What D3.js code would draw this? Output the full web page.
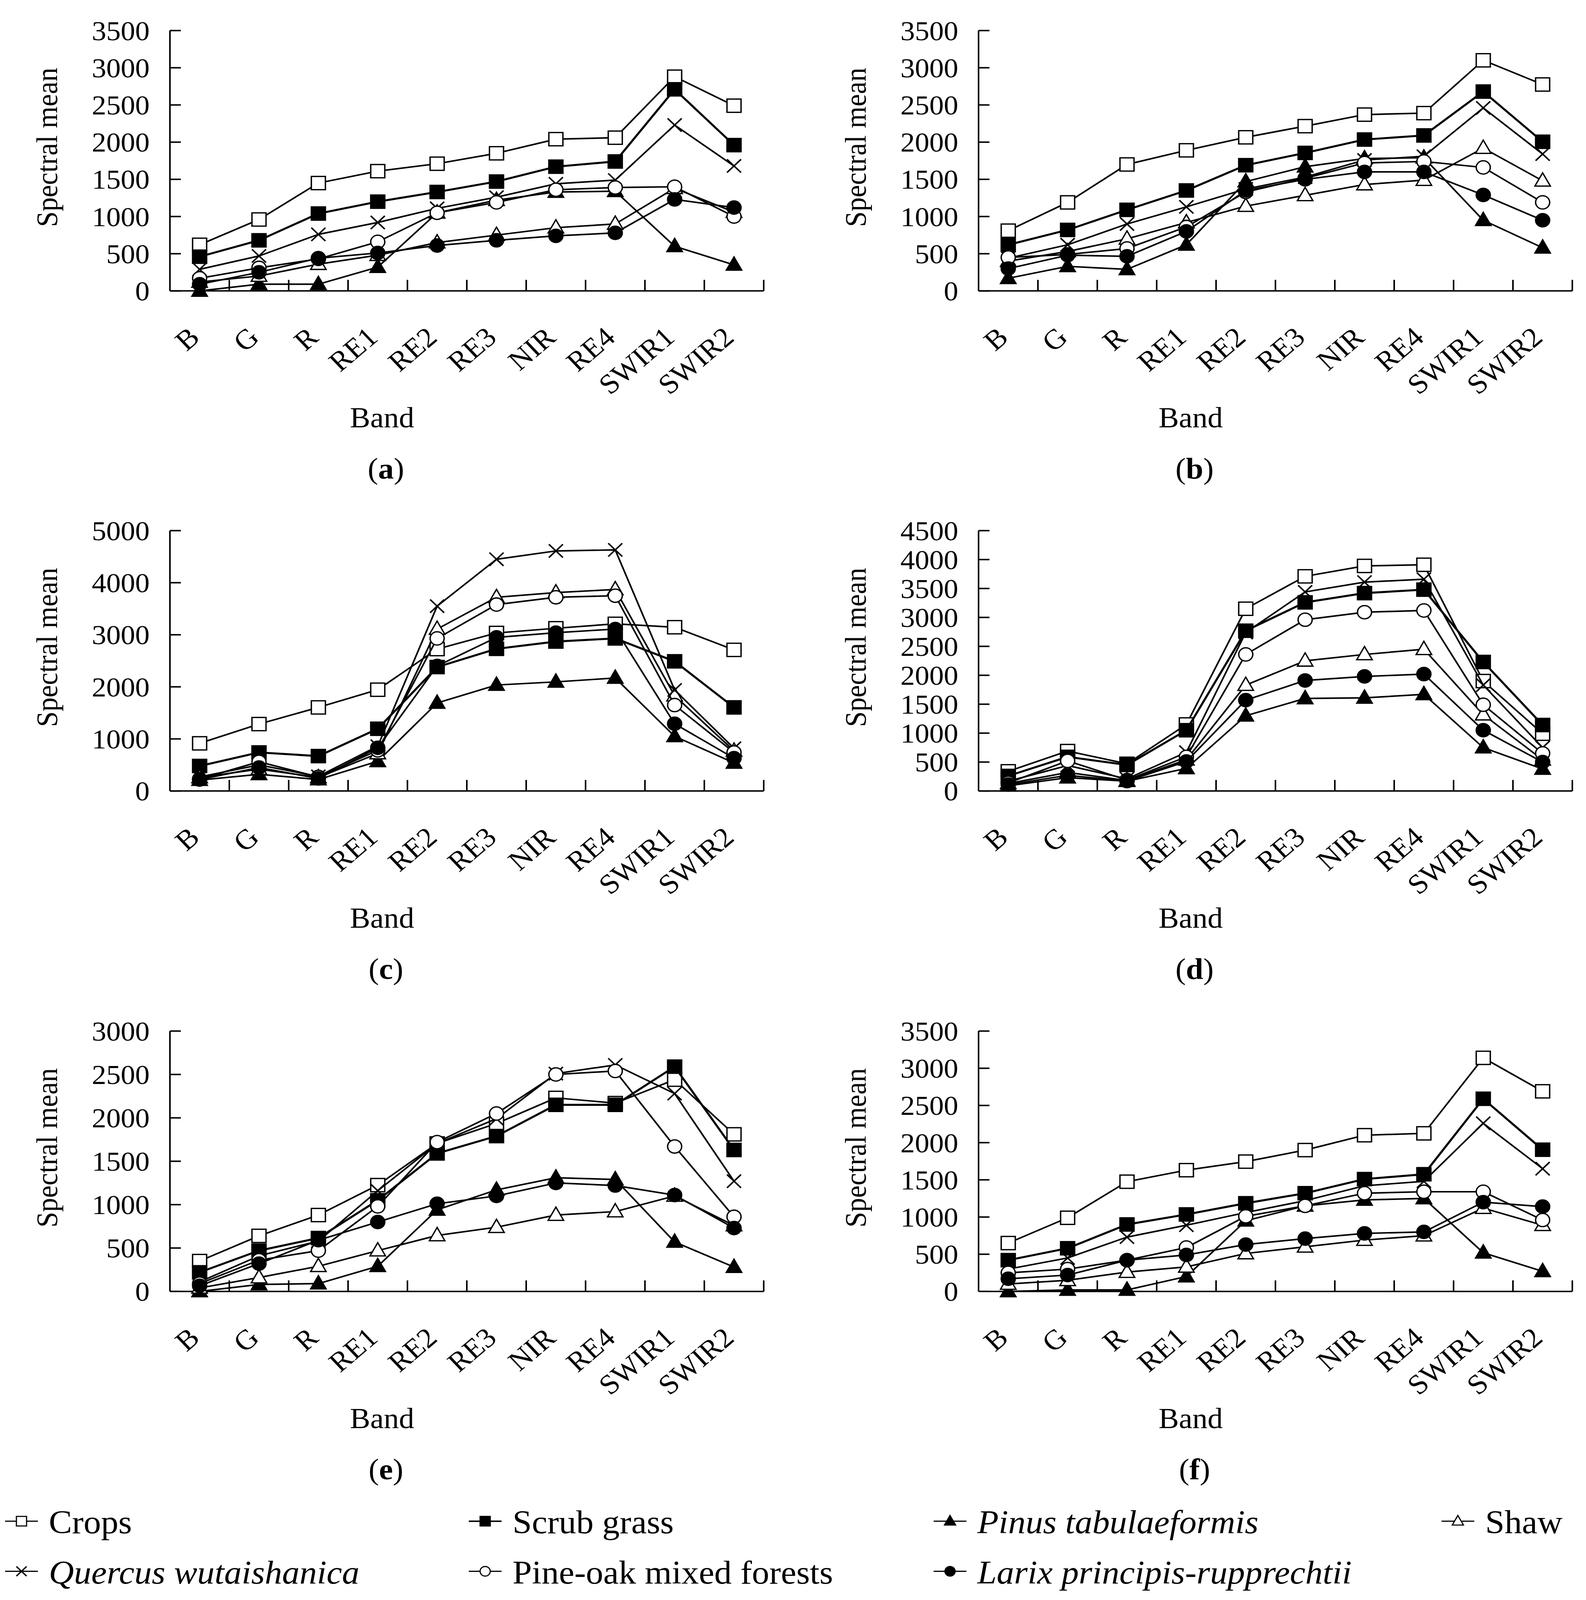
<!DOCTYPE html>
<html>
<head>
<meta charset="utf-8">
<script src="https://cdn.jsdelivr.net/npm/d3@7.9.0/dist/d3.min.js"></script>
<style>
  html, body { margin: 0; padding: 0; background: #fff; overflow: hidden; }
  svg { display: block; }
  text { font-family: "Liberation Serif", "Times New Roman", serif; fill: #000; }
</style>
</head>
<body>
<svg id="chart" viewBox="0 0 4060 4345" preserveAspectRatio="none"></svg>
<script>
// ===== data =====
const bands = ['B', 'G', 'R', 'RE1', 'RE2', 'RE3', 'NIR', 'RE4', 'SWIR1', 'SWIR2'];
const seriesNames = ['Crops', 'Scrub grass', 'Pinus tabulaeformis', 'Shaw',
  'Quercus wutaishanica', 'Pine-oak mixed forests', 'Larix principis-rupprechtii'];
const italicNames = [false, false, true, false, true, false, true];
const markerKinds = ['squareOpen', 'squareFilled', 'triFilled', 'triOpen', 'cross', 'circleOpen', 'circleFilled'];
const panelLabels = ['a', 'b', 'c', 'd', 'e', 'f'];
const yMaxes = [3500, 3500, 5000, 4500, 3000, 3500];
const ySteps = [500, 500, 1000, 500, 500, 500];

// rows follow seriesNames order
const valuesA = [
  [620, 960, 1450, 1610, 1710, 1850, 2040, 2060, 2880, 2490],
  [460, 680, 1040, 1200, 1330, 1470, 1670, 1740, 2710, 1960],
  [0, 90, 90, 320, 1050, 1220, 1330, 1340, 600, 350],
  [120, 200, 360, 480, 650, 750, 850, 900, 1380, 1060],
  [290, 470, 760, 920, 1110, 1260, 1440, 1490, 2230, 1680],
  [170, 310, 430, 660, 1050, 1190, 1360, 1390, 1400, 1000],
  [90, 250, 440, 510, 610, 680, 740, 780, 1230, 1120]
];
const valuesB = [
  [810, 1190, 1700, 1890, 2065, 2215, 2370, 2390, 3100, 2775],
  [620, 820, 1090, 1350, 1690, 1855, 2035, 2090, 2680, 2005],
  [170, 330, 290, 620, 1470, 1670, 1780, 1790, 950, 580],
  [400, 530, 700, 920, 1140, 1285, 1430, 1490, 1920, 1480],
  [440, 620, 900, 1130, 1370, 1530, 1760, 1810, 2460, 1840],
  [450, 490, 570, 860, 1330, 1515, 1720, 1740, 1660, 1190],
  [300, 480, 465, 800, 1350, 1500, 1600, 1600, 1290, 950]
];
const valuesC = [
  [915, 1285, 1605, 1945, 2725, 3035, 3125, 3210, 3145, 2710],
  [480, 740, 670, 1195, 2380, 2730, 2870, 2930, 2490, 1605],
  [210, 320, 220, 570, 1690, 2035, 2095, 2170, 1050, 540],
  [260, 420, 260, 720, 3110, 3720, 3810, 3870, 1830, 770],
  [270, 500, 280, 860, 3550, 4450, 4610, 4630, 1940, 820],
  [230, 560, 270, 780, 2930, 3580, 3720, 3750, 1650, 740],
  [220, 450, 240, 830, 2400, 2950, 3040, 3110, 1290, 630]
];
const valuesD = [
  [340, 690, 470, 1150, 3150, 3710, 3890, 3910, 1900, 990],
  [260, 590, 450, 1050, 2770, 3260, 3420, 3480, 2230, 1140],
  [90, 230, 170, 390, 1300, 1600, 1610, 1670, 750, 380],
  [130, 320, 180, 540, 1830, 2250, 2360, 2450, 1320, 540],
  [170, 440, 210, 670, 2740, 3440, 3610, 3660, 1830, 750],
  [140, 520, 190, 590, 2360, 2960, 3090, 3120, 1490, 650],
  [110, 270, 170, 510, 1570, 1910, 1980, 2020, 1050, 500]
];
const valuesE = [
  [350, 640, 880, 1225, 1705, 1935, 2230, 2170, 2440, 1810],
  [220, 470, 615, 1050, 1590, 1790, 2150, 2150, 2590, 1630],
  [0, 80, 90, 290, 940, 1170, 1310, 1290, 570, 280],
  [40, 160, 290, 470, 645, 740, 880, 920, 1100, 760],
  [110, 410, 580, 1160, 1705, 1990, 2510, 2610, 2280, 1270],
  [90, 360, 470, 980, 1720, 2050, 2500, 2540, 1670, 860],
  [65, 320, 590, 800, 1010, 1100, 1250, 1220, 1110, 730]
];
const valuesF = [
  [650, 990, 1475, 1630, 1745, 1900, 2100, 2125, 3140, 2690],
  [420, 580, 900, 1035, 1185, 1320, 1510, 1575, 2590, 1905],
  [0, 20, 20, 200, 950, 1150, 1230, 1250, 520, 270],
  [100, 150, 260, 330, 510, 600, 690, 750, 1120, 890],
  [300, 450, 730, 890, 1060, 1220, 1420, 1480, 2260, 1650],
  [250, 300, 420, 590, 1010, 1150, 1320, 1340, 1340, 960],
  [170, 220, 420, 490, 630, 710, 780, 800, 1200, 1140]
];
const panelValues = [valuesA, valuesB, valuesC, valuesD, valuesE, valuesF];

// ===== layout =====
const colX = [435, 2505];
const rowTop = [83, 1441, 2800];
const plotW = 1520;
const plotH = 707;

// the window is shorter than 4345, so squeeze the drawing into the viewport
const svg = d3.select('#chart')
  .attr('width', window.innerWidth)
  .attr('height', window.innerHeight);
svg.append('rect').attr('width', 4060).attr('height', 4345).attr('fill', '#fff');

function drawMarker(g, kind, x, y, s, sw) {
  const h = s / 2;
  if (kind === 'squareOpen' || kind === 'squareFilled') {
    g.append('rect')
      .attr('x', x - h).attr('y', y - h).attr('width', s).attr('height', s)
      .attr('fill', kind === 'squareFilled' ? '#000' : '#fff')
      .attr('stroke', '#000').attr('stroke-width', sw);
  } else if (kind === 'triOpen' || kind === 'triFilled') {
    const pts = [[x, y - s * 0.6], [x + s * 0.55, y + s * 0.4], [x - s * 0.55, y + s * 0.4]];
    g.append('path')
      .attr('d', 'M' + pts.map(p => p.join(',')).join('L') + 'Z')
      .attr('fill', kind === 'triFilled' ? '#000' : '#fff')
      .attr('stroke', '#000').attr('stroke-width', sw);
  } else if (kind === 'circleOpen' || kind === 'circleFilled') {
    g.append('circle')
      .attr('cx', x).attr('cy', y).attr('r', h)
      .attr('fill', kind === 'circleFilled' ? '#000' : '#fff')
      .attr('stroke', '#000').attr('stroke-width', sw);
  } else if (kind === 'cross') {
    g.append('path')
      .attr('d', `M${x - h},${y - h}L${x + h},${y + h}M${x - h},${y + h}L${x + h},${y - h}`)
      .attr('stroke', '#000').attr('stroke-width', sw + 0.5).attr('fill', 'none');
  }
}

panelValues.forEach((values, p) => {
  const x0 = colX[p % 2];
  const y0 = rowTop[Math.floor(p / 2)];
  const g = svg.append('g').attr('transform', `translate(${x0},${y0})`);

  const x = d3.scaleBand().domain(bands).range([0, plotW]);
  const y = d3.scaleLinear().domain([0, yMaxes[p]]).range([plotH, 0]);
  const yTicks = d3.range(0, yMaxes[p] + 1, ySteps[p]);

  // y axis, ticks pointing inward
  g.append('line').attr('x1', 0).attr('x2', 0).attr('y1', y(yMaxes[p])).attr('y2', plotH)
    .attr('stroke', '#000').attr('stroke-width', 4);
  g.selectAll('.ytick').data(yTicks).enter().append('line')
    .attr('x1', 0).attr('x2', 28).attr('y1', d => y(d)).attr('y2', d => y(d))
    .attr('stroke', '#000').attr('stroke-width', 4);
  g.selectAll('.ylab').data(yTicks).enter().append('text')
    .attr('x', -52).attr('y', d => y(d)).attr('dy', '0.35em')
    .attr('text-anchor', 'end').attr('font-size', 74).text(d => d);

  // x axis, ticks on band boundaries pointing up
  g.append('line').attr('x1', 0).attr('x2', plotW).attr('y1', plotH).attr('y2', plotH)
    .attr('stroke', '#000').attr('stroke-width', 4);
  g.selectAll('.xtick').data(bands).enter().append('line')
    .attr('x1', d => x(d) + x.bandwidth()).attr('x2', d => x(d) + x.bandwidth())
    .attr('y1', plotH).attr('y2', plotH - 30)
    .attr('stroke', '#000').attr('stroke-width', 4);
  g.selectAll('.xlab').data(bands).enter().append('text')
    .attr('transform', d => `translate(${x(d) + x.bandwidth() / 2 + 4},${plotH + 132}) rotate(-42)`)
    .attr('text-anchor', 'end').attr('font-size', 76).text(d => d);

  // axis titles
  g.append('text')
    .attr('transform', `translate(${-316},${317}) rotate(-90)`)
    .attr('text-anchor', 'middle').attr('dy', '0.35em').attr('font-size', 76)
    .text('Spectral mean');
  g.append('text')
    .attr('x', 543).attr('y', plotH + 371)
    .attr('text-anchor', 'middle').attr('font-size', 78).text('Band');
  const cap = g.append('text')
    .attr('x', 553).attr('y', plotH + 510)
    .attr('text-anchor', 'middle').attr('font-size', 80);
  cap.append('tspan').text('(');
  cap.append('tspan').attr('font-weight', 'bold').text(panelLabels[p]);
  cap.append('tspan').text(')');

  // series
  const line = d3.line()
    .x((d, i) => x(bands[i]) + x.bandwidth() / 2)
    .y(d => y(d));
  values.forEach((row, s) => {
    g.append('path').datum(row)
      .attr('d', line)
      .attr('fill', 'none').attr('stroke', '#000')
      .attr('stroke-width', s === 1 ? 5.5 : 4.2)
      .attr('stroke-linejoin', 'round');
    const mg = g.append('g');
    row.forEach((v, i) => drawMarker(mg, markerKinds[s], x(bands[i]) + x.bandwidth() / 2, y(v), 36, 3.5));
  });
});

// ===== legend =====
const legendX = [13, 1200, 2390, 3690];
const legendSlots = [[0, 0], [1, 0], [2, 0], [3, 0], [0, 1], [1, 1], [2, 1]];
const legendRowY = [4131, 4267];
seriesNames.forEach((name, s) => {
  const [c, r] = legendSlots[s];
  const lx = legendX[c];
  const ly = legendRowY[r];
  const lg = svg.append('g');
  lg.append('line').attr('x1', lx).attr('x2', lx + 84).attr('y1', ly).attr('y2', ly)
    .attr('stroke', '#000').attr('stroke-width', s === 1 ? 4 : 3);
  drawMarker(lg, markerKinds[s], lx + 42, ly, 26, 3);
  lg.append('text')
    .attr('x', lx + 112).attr('y', ly + 33)
    .attr('font-size', 89)
    .attr('font-style', italicNames[s] ? 'italic' : 'normal')
    .text(name);
});
</script>
</body>
</html>
